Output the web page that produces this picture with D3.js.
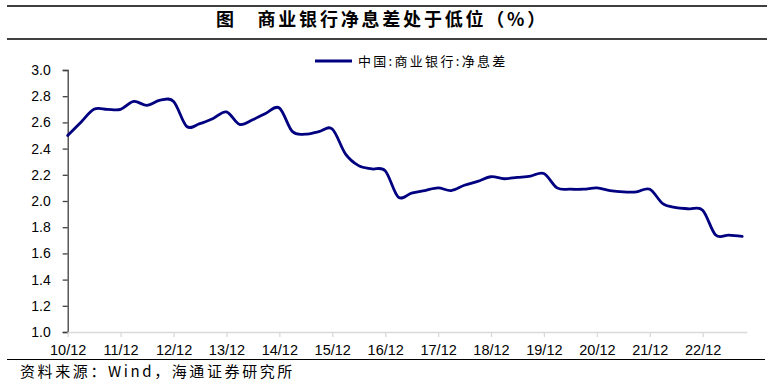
<!DOCTYPE html>
<html>
<head>
<meta charset="utf-8">
<script src="https://cdn.jsdelivr.net/npm/d3@7"></script>
<style>
  html, body { margin: 0; padding: 0; background: #fff; }
  svg { display: block; }
</style>
</head>
<body>
<svg id="chart" width="774" height="387"></svg>
<script>
const titleText = "图　商业银行净息差处于低位（%）";
const seriesName = "中国:商业银行:净息差";
const sourceText = "资料来源：Wind，海通证券研究所";

const quarters = [
  "2010-12","2011-03","2011-06","2011-09","2011-12",
  "2012-03","2012-06","2012-09","2012-12",
  "2013-03","2013-06","2013-09","2013-12",
  "2014-03","2014-06","2014-09","2014-12",
  "2015-03","2015-06","2015-09","2015-12",
  "2016-03","2016-06","2016-09","2016-12",
  "2017-03","2017-06","2017-09","2017-12",
  "2018-03","2018-06","2018-09","2018-12",
  "2019-03","2019-06","2019-09","2019-12",
  "2020-03","2020-06","2020-09","2020-12",
  "2021-03","2021-06","2021-09","2021-12",
  "2022-03","2022-06","2022-09","2022-12",
  "2023-03","2023-06","2023-09"
];
const nim = [
  2.50, 2.60, 2.70, 2.70, 2.70,
  2.76, 2.73, 2.77, 2.76,
  2.57, 2.59, 2.63, 2.68,
  2.585, 2.62, 2.67, 2.71,
  2.53, 2.51, 2.53, 2.55,
  2.36, 2.27, 2.245, 2.23,
  2.03, 2.06, 2.08, 2.10,
  2.08, 2.12, 2.15, 2.185,
  2.17, 2.18, 2.19, 2.21,
  2.10, 2.09, 2.09, 2.10,
  2.08, 2.07, 2.07, 2.09,
  1.98, 1.95, 1.94, 1.93,
  1.74, 1.74, 1.73
];
const xTickLabels = ["10/12","11/12","12/12","13/12","14/12","15/12","16/12","17/12","18/12","19/12","20/12","21/12","22/12"];
const yTicks = [1.0, 1.2, 1.4, 1.6, 1.8, 2.0, 2.2, 2.4, 2.6, 2.8, 3.0];

const svg = d3.select("#chart");

const monthEnd = s => { const [y, m] = s.split("-").map(Number); return new Date(y, m, 0); };
const tickDate = s => { const [yy, mm] = s.split("/").map(Number); return new Date(2000 + yy, mm, 0); };

const x = d3.scaleTime()
  .domain([new Date(2010, 11, 31), new Date(2023, 9, 31)])
  .range([67.7, 746.7]);
const y = d3.scaleLinear().domain([1, 3]).range([332, 70]);

// header lines & title
svg.append("line").attr("x1", 7).attr("x2", 767).attr("y1", 6).attr("y2", 6)
  .attr("stroke", "#000").attr("stroke-width", 1.5);
svg.append("text").attr("x", 382).attr("y", 26).attr("text-anchor", "middle")
  .attr("font-family", "'Noto Sans CJK SC', sans-serif").attr("font-weight", "bold")
  .attr("font-size", 18).attr("letter-spacing", 2.8).attr("fill", "#000")
  .text(titleText);
svg.append("line").attr("x1", 7).attr("x2", 767).attr("y1", 39).attr("y2", 39)
  .attr("stroke", "#000").attr("stroke-width", 1.5);

// legend
svg.append("line").attr("x1", 315).attr("x2", 352).attr("y1", 61).attr("y2", 61)
  .attr("stroke", "#000080").attr("stroke-width", 3);
svg.append("text").attr("x", 358).attr("y", 66)
  .attr("font-family", "'Noto Sans CJK SC', sans-serif").attr("font-size", 13)
  .attr("letter-spacing", 2.3).attr("fill", "#000").text(seriesName);

// y axis
const yAxis = svg.append("g").attr("transform", "translate(67.7,0)")
  .call(d3.axisLeft(y).tickValues(yTicks).tickFormat(d3.format(".1f")).tickSize(5).tickPadding(12));
yAxis.select(".domain").attr("stroke", "#404040").attr("stroke-width", 1.3);
yAxis.selectAll(".tick line").attr("stroke", "#404040").attr("stroke-width", 1.3);
yAxis.selectAll(".tick text").attr("font-family", "'Liberation Sans', Arial, sans-serif")
  .attr("font-size", 14).attr("fill", "#000");

// x axis
const xAxis = svg.append("g").attr("transform", "translate(0,332)")
  .call(d3.axisBottom(x).tickValues(xTickLabels.map(tickDate))
    .tickFormat((d, i) => xTickLabels[i]).tickSizeInner(5).tickSizeOuter(0).tickPadding(8));
xAxis.select(".domain").attr("stroke", "#d9d9d9").attr("stroke-width", 1.5);
xAxis.selectAll(".tick line").attr("stroke", "#d9d9d9").attr("stroke-width", 1.3);
xAxis.selectAll(".tick text").attr("font-family", "'Liberation Sans', Arial, sans-serif")
  .attr("font-size", 14.5).attr("fill", "#000");

// line
const data = quarters.map((q, i) => ({ date: monthEnd(q), v: nim[i] }));
svg.append("path").datum(data)
  .attr("fill", "none").attr("stroke", "#000080").attr("stroke-width", 2.8)
  .attr("stroke-linejoin", "round").attr("stroke-linecap", "round")
  .attr("d", d3.line().x(d => x(d.date)).y(d => y(d.v)).curve(d3.curveCardinal.tension(0)));

// footer
svg.append("line").attr("x1", 7).attr("x2", 765).attr("y1", 359.5).attr("y2", 359.5)
  .attr("stroke", "#000").attr("stroke-width", 1.2);
svg.append("text").attr("x", 20).attr("y", 377)
  .attr("font-family", "'Noto Sans CJK SC', sans-serif").attr("font-size", 15)
  .attr("letter-spacing", 2.6).attr("fill", "#000").text(sourceText);
</script>
</body>
</html>
